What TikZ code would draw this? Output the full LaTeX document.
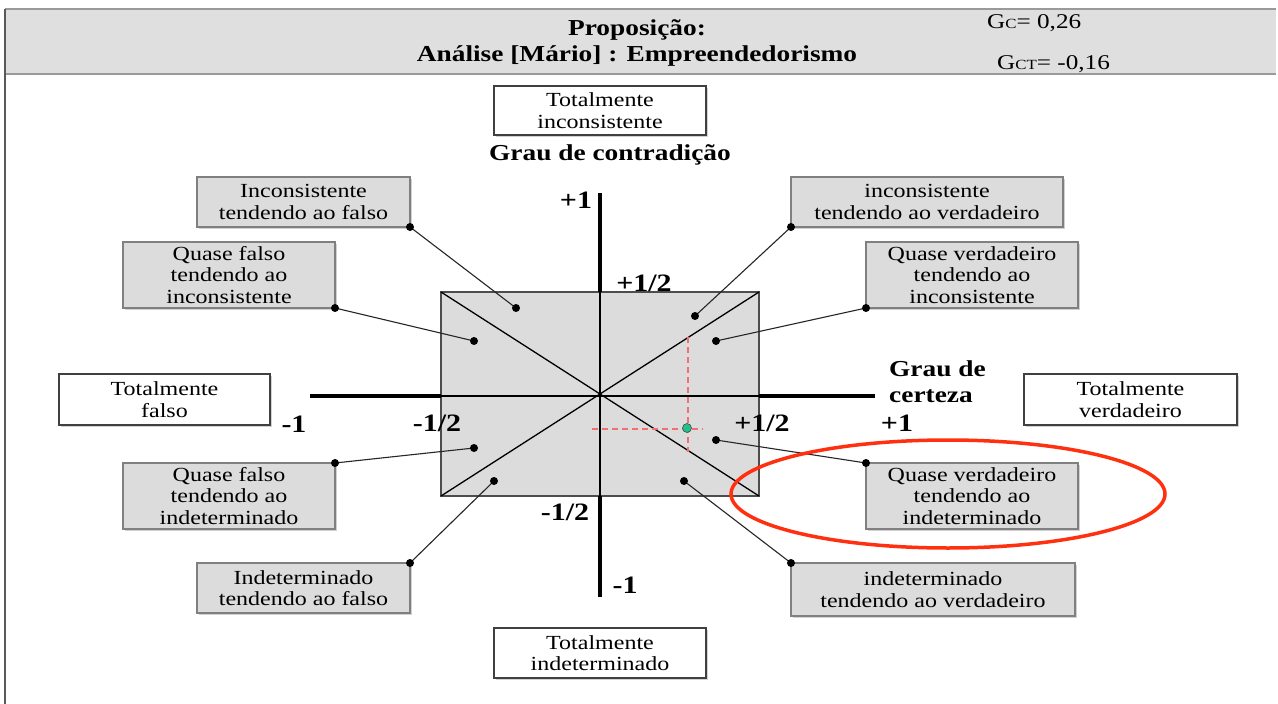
\documentclass[tikz,border=0pt]{standalone}
\usepackage{fontspec}
\setmainfont{Liberation Serif}[FakeStretch=1.2]
\usetikzlibrary{shadows}
\definecolor{boxgray}{HTML}{DCDCDC}
\definecolor{headgray}{HTML}{DFDFDF}
\definecolor{edgegray}{HTML}{808080}
\definecolor{markred}{HTML}{FF3010}
\definecolor{guidered}{HTML}{EE7070}
\definecolor{pointgreen}{HTML}{22C08A}
\tikzset{
  labelbox/.style={draw=edgegray, line width=1.3pt, fill=boxgray, inner sep=0pt, outer sep=0pt,
    align=center, font=\fontsize{20}{21.5}\selectfont,
    drop shadow={shadow xshift=1.5pt, shadow yshift=-1.5pt, opacity=.35}},
  extremebox/.style={labelbox, fill=white, draw=black!75},
  axisthick/.style={line width=4pt},
  axisthin/.style={line width=1.3pt},
  leader/.style={line width=1.1pt, black!85},
  dotmark/.style={fill=black},
  boldlabel/.style={font=\bfseries\fontsize{22.8}{26}\selectfont, inner sep=0pt},
  numlabel/.style={font=\bfseries\fontsize{25}{25}\selectfont, inner sep=0pt},
  guide/.style={guidered, dash pattern=on 6pt off 4pt, line width=1.2pt}
}
\begin{document}
\begin{tikzpicture}[x=1pt, y=-1pt]
\useasboundingbox (0,0) rectangle (1278,704);
\fill[white] (0,0) rectangle (1278,704);

% header band
\fill[headgray] (5,9) rectangle (1276,74);
\draw[line width=2pt, edgegray!80] (5,9) -- (1276,9);
\draw[line width=2pt, edgegray!80] (5,74) -- (1276,74);
\draw[line width=2pt, black!65] (5,9) -- (5,704);
\node[font=\bfseries\fontsize{22.8}{26}\selectfont, align=center, inner sep=0pt] (title) at (637,43)
  {Proposição:\\Análise [Mário] : Empreendedorismo};
\node[anchor=west, inner sep=0pt, font=\fontsize{21}{21}\selectfont] (gc) at (987,23)
  {G{\fontsize{14}{14}\selectfont C}= 0,26};
\node[anchor=west, inner sep=0pt, font=\fontsize{21}{21}\selectfont] (gct) at (997,64)
  {G{\fontsize{14}{14}\selectfont CT}= -0,16};

% lattice region
\fill[boxgray] (441,292) rectangle (759,496);
\draw[edgegray!60!black, line width=1.2pt] (441,292) rectangle (759,496);
\coordinate (o) at (600,396);
\draw[axisthin] (441,292) -- (759,496);
\draw[axisthin] (441,496) -- (759,292);
\draw[axisthin] (441,396) -- (759,396);
\draw[axisthin] (600,292) -- (600,496);

% axes outside the region
\draw[axisthick] (310,396) -- (441,396);
\draw[axisthick] (759,396) -- (875,396);
\draw[axisthick] (600,193) -- (600,292);
\draw[axisthick] (600,496) -- (600,597);

% axis labels
\node[numlabel] (py1) at (576,200) {+1};
\node[numlabel] (py2) at (644,283) {+1/2};
\node[numlabel] (nx1) at (294,424) {-1};
\node[numlabel] (nx2) at (437,423) {-1/2};
\node[numlabel] (px2) at (762,423) {+1/2};
\node[numlabel] (px1) at (897,423) {+1};
\node[numlabel] (ny2) at (565,512) {-1/2};
\node[numlabel] (ny1) at (625,585) {-1};
\node[boldlabel] (gcontr) at (610,155) {Grau de contradição};
\node[boldlabel, align=left, anchor=west] (gcert) at (889,382) {Grau de\\certeza};

% guide lines and current point
\draw[guide] (688,337) -- (688,452);
\draw[guide] (592,429) -- (703,429);
\node[circle, fill=pointgreen, draw=black!70, line width=0.6pt, minimum size=9pt, inner sep=0pt] (pt) at (687,428) {};

% extreme states
\node[extremebox, minimum width=212pt, minimum height=49pt] (tinc) at (600,110.5) {Totalmente\\inconsistente};
\node[extremebox, minimum width=211pt, minimum height=51pt] (tfal) at (164.5,399.5) {Totalmente\\falso};
\node[extremebox, minimum width=213pt, minimum height=51pt] (tver) at (1130.5,399.5) {Totalmente\\verdadeiro};
\node[extremebox, minimum width=212pt, minimum height=50pt] (tind) at (600,653) {Totalmente\\indeterminado};

% non-extreme states
\node[labelbox, minimum width=213pt, minimum height=50pt] (itf) at (303.5,202) {Inconsistente\\tendendo ao falso};
\node[labelbox, minimum width=212pt, minimum height=66pt] (qfi) at (229,275) {Quase falso\\tendendo ao\\inconsistente};
\node[labelbox, minimum width=272pt, minimum height=50pt] (itv) at (927,202) {inconsistente\\tendendo ao verdadeiro};
\node[labelbox, minimum width=212pt, minimum height=66pt] (qvi) at (972,275) {Quase verdadeiro\\tendendo ao\\inconsistente};
\node[labelbox, minimum width=212pt, minimum height=66pt] (qfd) at (229,496) {Quase falso\\tendendo ao\\indeterminado};
\node[labelbox, minimum width=212pt, minimum height=66pt] (qvd) at (972,496) {Quase verdadeiro\\tendendo ao\\indeterminado};
\node[labelbox, minimum width=213pt, minimum height=50pt] (idf) at (303.5,588) {Indeterminado\\tendendo ao falso};
\node[labelbox, minimum width=284pt, minimum height=53pt] (idv) at (933,589.5) {indeterminado\\tendendo ao verdadeiro};

% region markers
\coordinate (mitf) at (516,308);
\coordinate (mqfi) at (474,341);
\coordinate (mqfd) at (474,448);
\coordinate (midf) at (494,481);
\coordinate (mitv) at (695,316);
\coordinate (mqvi) at (716,341);
\coordinate (mqvd) at (716,440);
\coordinate (midv) at (684,481);

\foreach \b/\a/\m in {itf/south east/mitf, qfi/south east/mqfi, qfd/north east/mqfd, idf/north east/midf,
                      itv/south west/mitv, qvi/south west/mqvi, qvd/north west/mqvd, idv/north west/midv}{
  \draw[leader] (\b.\a) -- (\m);
  \fill[dotmark] (\b.\a) circle (4pt);
  \fill[dotmark] (\m) circle (4pt);
}

% highlighted state
\draw[markred, line width=3.5pt] (948,494) ellipse (217pt and 54pt);
\end{tikzpicture}
\end{document}
